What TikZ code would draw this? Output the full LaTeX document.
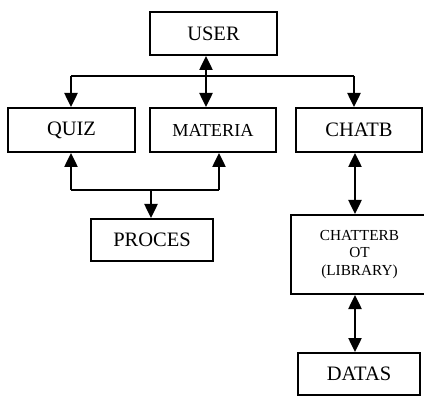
\documentclass[tikz,border=0pt]{standalone}
\usepackage{fontspec}
\setmainfont{Liberation Serif}
\usetikzlibrary{arrows.meta}
\begin{document}
\begin{tikzpicture}[x=1pt,y=-1pt,
  box/.style={draw=black,line width=2pt,rectangle,inner sep=0pt,fill=white,
    font=\fontsize{20.5}{24}\selectfont},
  conn/.style={line width=2.5pt,draw=black},
  tip/.style={-{Triangle[length=14pt,width=13pt]}},
  both/.style={{Triangle[length=14pt,width=13pt]}-{Triangle[length=14pt,width=13pt]}}]
\useasboundingbox (0,0) rectangle (424,396);
% nodes
\node[box,minimum width=127pt,minimum height=43pt] (user) at (213.5,33.5) {USER};
\node[box,minimum width=127pt,minimum height=44pt] (quiz) at (71.5,130) {QUIZ};
\node[box,minimum width=126pt,minimum height=44pt,font=\fontsize{18.3}{22}\selectfont] (materia) at (213,130) {MATERIA};
\node[box,minimum width=126pt,minimum height=44pt] (chatb) at (359,130) {CHATB};
\node[box,minimum width=122pt,minimum height=42pt] (proces) at (152,240) {PROCES};
\node[box,minimum width=137pt,minimum height=79pt,align=center,
  font=\fontsize{15.3}{17.5}\selectfont] (chatterb) at (359.5,254.5) {CHATTERB\\OT\\(LIBRARY)};
\node[box,minimum width=122pt,minimum height=42pt] (datas) at (359,374) {DATAS};
% junction points
\coordinate (tl) at (71,76);
\coordinate (tm) at (206,76);
\coordinate (tr) at (354,76);
\coordinate (bl) at (71,190);
\coordinate (bm) at (151,190);
\coordinate (br) at (219,190);
\coordinate (cx) at (355,200);
% top connectors
\draw[conn] (tl) -- (tr);
\draw[conn,tip] (tl) -- (quiz.north -| tl);
\draw[conn,tip] (tr) -- (chatb.north -| tr);
\draw[conn,both] (user.south -| tm) -- (materia.north -| tm);
% bottom connectors
\draw[conn] (bl) -- (br);
\draw[conn,tip] (bl) -- (quiz.south -| bl);
\draw[conn,tip] (br) -- (materia.south -| br);
\draw[conn,tip] (bm) -- (proces.north -| bm);
% right chain
\draw[conn,both] (chatb.south -| cx) -- (chatterb.north -| cx);
\draw[conn,both] (chatterb.south -| cx) -- (datas.north -| cx);
\end{tikzpicture}
\end{document}
